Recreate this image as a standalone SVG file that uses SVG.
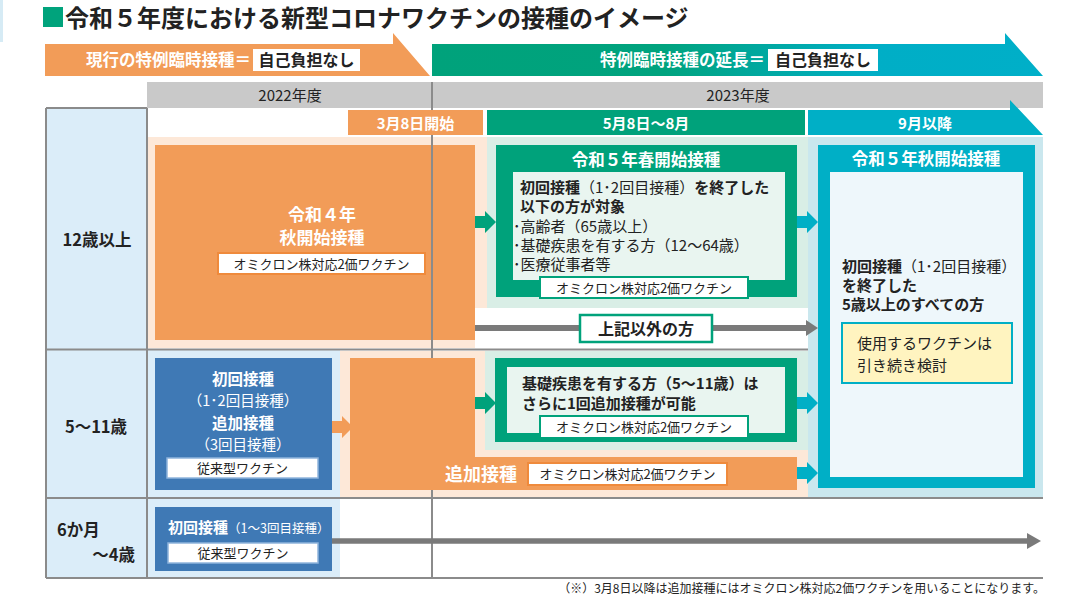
<svg xmlns="http://www.w3.org/2000/svg" xmlns:xlink="http://www.w3.org/1999/xlink" width="1086" height="601" viewBox="0 0 1086 601">
<defs>
<linearGradient id="gt" x1="432" y1="0" x2="1043" y2="0" gradientUnits="userSpaceOnUse">
<stop offset="0" stop-color="#00a27b"/>
<stop offset="0.38" stop-color="#00a37e"/>
<stop offset="0.72" stop-color="#00aec6"/>
<stop offset="1" stop-color="#00afc8"/>
</linearGradient>
<path id="blk" d="M0,-6 H10 V-11 L21,0 L10,11 V6 H0 Z"/>
<style>
text{font-family:"Noto Sans CJK JP","Noto Sans",sans-serif;}
.b{font-weight:700;}
.w{fill:#fff;}
.k{fill:#222;}
.c{text-anchor:middle;}
.gline{stroke:#8b8b8b;stroke-width:2;fill:none;}
.or{fill:#f29c58;}
.pe{fill:#fde8d8;}
.gr{fill:#00a27b;}
.lg{fill:#d9eee6;}
.ig{fill:#e9f5f0;}
.te{fill:#00afc6;}
.lt{fill:#cae7ee;}
.it{fill:#eef7fb;}
.bl{fill:#3f79b5;}
.lb{fill:#dbedf9;}
</style>
</defs>
<rect width="1086" height="601" fill="#fff"/>
<rect x="0" y="0" width="3" height="42" fill="#d6ebf5"/>

<g id="title">
<rect x="43" y="7" width="20" height="20" fill="#00a37c"/>
<text x="65" y="27" font-size="24" class="b k">令和５年度における新型コロナワクチンの接種のイメージ</text>
</g>

<g id="header-current">
<polygon points="45,44 393,44 393,33 430,76 45,76" class="or"/>
<text x="251" y="66" font-size="16.5" class="b w" text-anchor="end">現行の特例臨時接種＝</text>
<rect x="253" y="49" width="107" height="22" fill="#fff"/>
<text x="306.5" y="66" font-size="16" class="b k c">自己負担なし</text>
</g>

<g id="header-extension">
<polygon points="432,44 1005,44 1005,33 1043,76 432,76" fill="url(#gt)"/>
<text x="765" y="66" font-size="16.5" class="b w" text-anchor="end">特例臨時接種の延長＝</text>
<rect x="768" y="49" width="110" height="22" fill="#fff"/>
<text x="823" y="66" font-size="16" class="b k c">自己負担なし</text>
</g>

<g id="year-bar">
<rect x="147" y="82" width="896" height="26" fill="#c9c9c9"/>
<text x="290" y="101" font-size="15" class="k c">2022年度</text>
<text x="738" y="101" font-size="15" class="k c">2023年度</text>
</g>

<g id="backgrounds">
<rect x="46" y="108" width="101" height="470" class="lb"/>
<rect x="147" y="137" width="340" height="211" class="pe"/>
<rect x="487" y="137" width="321" height="171" class="lg"/>
<rect x="808" y="137" width="235" height="361" class="lt"/>
<rect x="147" y="350" width="193" height="228" class="lb"/>
<rect x="340" y="351" width="468" height="146" class="pe"/>
<rect x="485" y="351" width="323" height="99" class="lg"/>
</g>

<g id="grid">
<line x1="46" y1="108" x2="147" y2="108" class="gline"/>
<line x1="46" y1="108" x2="46" y2="578" class="gline"/>
<line x1="147" y1="108" x2="147" y2="578" class="gline"/>
<line x1="432" y1="82" x2="432" y2="578" class="gline"/>
<line x1="46" y1="349.5" x2="808" y2="349.5" class="gline"/>
<line x1="46" y1="498" x2="1043" y2="498" class="gline"/>
<line x1="46" y1="578" x2="1043" y2="578" class="gline"/>
</g>

<g id="period-mar">
<rect x="348" y="110" width="135" height="25" class="or"/>
<text x="415.5" y="128.5" font-size="15" class="b w c">3月8日開始</text>
</g>
<g id="period-may">
<rect x="487" y="110" width="318" height="25" class="gr"/>
<text x="646" y="128.5" font-size="15" class="b w c">5月8日～8月</text>
</g>
<g id="period-sep">
<polygon points="808,110 1010,110 1010,100 1043,135 808,135" class="te"/>
<text x="925" y="128.5" font-size="15" class="b w c">9月以降</text>
</g>

<g id="labels">
<text x="97" y="246" font-size="16.5" class="b k c">12歳以上</text>
<text x="96" y="433" font-size="16.5" class="b k c">5～11歳</text>
<text x="57" y="536" font-size="16.5" class="b k">6か月</text>
<text x="135" y="561" font-size="16.5" class="b k" text-anchor="end">～4歳</text>
</g>

<g id="node-r4-autumn">
<rect x="155" y="145" width="320" height="195" class="or"/>
<line x1="432" y1="137" x2="432" y2="348" class="gline"/>
<text x="322" y="221" font-size="17" class="b w c">令和４年</text>
<text x="322" y="244" font-size="17" class="b w c">秋開始接種</text>
<rect x="218" y="253" width="207" height="21" fill="#fff" stroke="#ef8a3c" stroke-width="2"/>
<text x="321.5" y="269" font-size="13" class="k c">オミクロン株対応2価ワクチン</text>
</g>

<g id="node-r5-spring">
<rect x="496" y="145" width="301" height="152" class="gr"/>
<text x="646" y="166" font-size="16.5" class="b w c">令和５年春開始接種</text>
<rect x="513" y="172" width="272" height="108" class="ig"/>
<text x="520" y="193" font-size="15" class="k"><tspan class="b">初回接種</tspan>（1･2回目接種）<tspan class="b">を終了した</tspan></text>
<text x="520" y="212" font-size="15" class="b k">以下の方が対象</text>
<text x="513" y="232" font-size="15" class="k">･高齢者（65歳以上）</text>
<text x="513" y="251" font-size="15" class="k">･基礎疾患を有する方（12～64歳）</text>
<text x="513" y="270" font-size="15" class="k">･医療従事者等</text>
<rect x="540" y="277" width="208" height="21" fill="#fff" stroke="#00a27b" stroke-width="2"/>
<text x="644" y="293" font-size="13" class="k c">オミクロン株対応2価ワクチン</text>
</g>

<g id="node-others">
<rect x="475" y="308" width="333" height="40" fill="#fff"/>
</g>

<g id="node-r5-autumn">
<rect x="818" y="145" width="217" height="343" class="te"/>
<text x="926" y="165" font-size="16.5" class="b w c">令和５年秋開始接種</text>
<rect x="830" y="172" width="193" height="305" class="it"/>
<text x="842" y="272" font-size="15" class="k"><tspan class="b">初回接種</tspan>（1･2回目接種）</text>
<text x="842" y="291" font-size="15" class="b k">を終了した</text>
<text x="842" y="310" font-size="15" class="b k">5歳以上のすべての方</text>
<rect x="842" y="323" width="170" height="60" fill="#fff4c0" stroke="#00afc6" stroke-width="2"/>
<text x="857" y="349" font-size="15" class="k">使用するワクチンは</text>
<text x="857" y="371" font-size="15" class="k">引き続き検討</text>
</g>

<g id="node-child-primary">
<rect x="155" y="358" width="177" height="132" class="bl"/>
<text x="243" y="385" font-size="15.5" class="b w c">初回接種</text>
<text x="243" y="406" font-size="14.5" class="w c">（1･2回目接種）</text>
<text x="243" y="429" font-size="15.5" class="b w c">追加接種</text>
<text x="243" y="450" font-size="14.5" class="w c">（3回目接種）</text>
<rect x="167" y="458" width="151" height="20" fill="#fff" stroke="#8fb4dc" stroke-width="1.5"/>
<text x="242.5" y="473" font-size="13" class="k c">従来型ワクチン</text>
</g>

<g id="node-child-booster">
<path d="M350,358 H475 V457 H797 V490 H350 Z" class="or"/>
<text x="445" y="481" font-size="18" class="b w">追加接種</text>
<rect x="528" y="463" width="199" height="22" fill="#fff" stroke="#ef8a3c" stroke-width="2"/>
<text x="627.5" y="479" font-size="13" class="k c">オミクロン株対応2価ワクチン</text>
</g>

<g id="node-child-underlying">
<rect x="495" y="358" width="302" height="84" class="gr"/>
<rect x="507" y="367" width="278" height="66" class="ig"/>
<text x="522" y="389" font-size="15" class="b k">基礎疾患を有する方（5～11歳）は</text>
<text x="522" y="409" font-size="15" class="b k">さらに1回追加接種が可能</text>
<rect x="540" y="416" width="208" height="22" fill="#fff" stroke="#00a27b" stroke-width="2"/>
<text x="644" y="432" font-size="13" class="k c">オミクロン株対応2価ワクチン</text>
</g>

<g id="node-infant">
<rect x="155" y="507" width="177" height="64" class="bl"/>
<text x="168" y="533" font-size="15" class="w"><tspan class="b">初回接種</tspan><tspan font-size="12.5">（1～3回目接種）</tspan></text>
<rect x="168" y="543" width="150" height="20" fill="#fff" stroke="#8fb4dc" stroke-width="1.5"/>
<text x="243" y="558" font-size="13" class="k c">従来型ワクチン</text>
</g>

<g id="connectors">
<line x1="475" y1="328" x2="808" y2="328" stroke="#7a7a7a" stroke-width="6"/>
<polygon points="806,320 818,328 806,336" fill="#7a7a7a"/>
<line x1="332" y1="541" x2="1030" y2="541" stroke="#7a7a7a" stroke-width="5.5"/>
<polygon points="1027,533 1041,541 1027,549" fill="#7a7a7a"/>
<use xlink:href="#blk" href="#blk" x="475" y="222" fill="#00a27b"/>
<use xlink:href="#blk" href="#blk" x="797" y="222" fill="#00afc6"/>
<use xlink:href="#blk" href="#blk" x="332" y="427" fill="#f29c58"/>
<use xlink:href="#blk" href="#blk" x="475" y="403" fill="#00a27b"/>
<use xlink:href="#blk" href="#blk" x="797" y="403" fill="#00afc6"/>
<use xlink:href="#blk" href="#blk" x="797" y="473" fill="#00afc6"/>
</g>

<g id="others-label">
<rect x="580" y="315" width="132" height="27" fill="#fff" stroke="#00a27b" stroke-width="2.5"/>
<text x="646" y="334.5" font-size="16" class="b k c">上記以外の方</text>
</g>

<g id="footnote">
<text x="1045" y="593" font-size="12" class="k" text-anchor="end">（※）3月8日以降は追加接種にはオミクロン株対応2価ワクチンを用いることになります。</text>
</g>
</svg>
